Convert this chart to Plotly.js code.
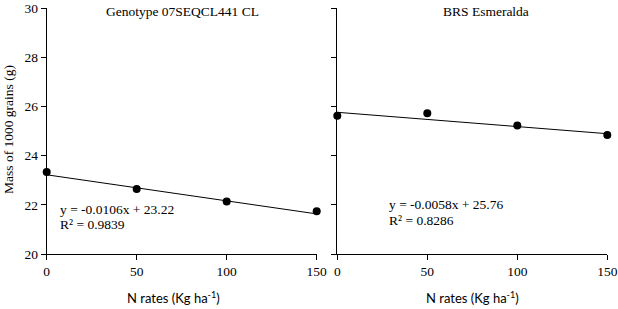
<!DOCTYPE html>
<html>
<head>
<meta charset="utf-8">
<script src="https://cdn.plot.ly/plotly-3.0.1.min.js"></script>
<style>
  html, body { margin: 0; padding: 0; background: #fff; }
  #chart { width: 618px; height: 309px; }
</style>
</head>
<body>
<div id="chart"></div>
<script>
// N rates applied (kg/ha)
const nRates = [0, 50, 100, 150];

// Mass of 1000 grains (g) per cultivar
const massGenotype = [23.33, 22.64, 22.13, 21.74];
const massEsmeralda = [25.62, 25.72, 25.22, 24.84];

// Panel titles
const panelTitles = ["Genotype 07SEQCL441 CL", "BRS Esmeralda"];

// Linear fit coefficients [slope, intercept] and R² for each panel
const fitGenotype = [-0.0106, 23.22];
const fitEsmeralda = [-0.0058, 25.76];
const r2Values = ["0.9839", "0.8286"];

// Axis ticks
const yTicks = [20, 22, 24, 26, 28, 30];
const xTicks = [0, 50, 100, 150];

const serif = "Liberation Serif, Times New Roman, serif";
const sans = "Lato, Open Sans, sans-serif";

function fitLine(fit) {
  const xs = [nRates[0], nRates[nRates.length - 1]];
  return { x: xs, y: xs.map(v => fit[0] * v + fit[1]) };
}

function fmtEq(fit) {
  return "y = " + fit[0].toFixed(4) + "x + " + fit[1].toFixed(2);
}

const markerStyle = { color: "#000", size: 8 };
const lineStyle = { color: "#000", width: 1 };

const l1 = fitLine(fitGenotype);
const l2 = fitLine(fitEsmeralda);

const traces = [
  { x: l1.x, y: l1.y, mode: "lines", line: lineStyle, xaxis: "x", yaxis: "y", hoverinfo: "skip", cliponaxis: false },
  { x: nRates, y: massGenotype, mode: "markers", marker: markerStyle, xaxis: "x", yaxis: "y", cliponaxis: false },
  { x: l2.x, y: l2.y, mode: "lines", line: lineStyle, xaxis: "x2", yaxis: "y2", hoverinfo: "skip", cliponaxis: false },
  { x: nRates, y: massEsmeralda, mode: "markers", marker: markerStyle, xaxis: "x2", yaxis: "y2", cliponaxis: false }
];

const W = 618, H = 309;
const yDom = [1 - 254 / H, 1 - 8 / H];

const axisCommon = {
  showgrid: false, zeroline: false, showline: true, linecolor: "#000", linewidth: 1,
  ticks: "outside", ticklen: 5, tickwidth: 1, tickcolor: "#000",
  tickfont: { family: serif, size: 13.5, color: "#000" }
};

const xAxisCommon = Object.assign({}, axisCommon, {
  range: [0, 150], tickmode: "array", tickvals: xTicks, ticktext: xTicks.map(String)
});

const yAxisCommon = Object.assign({}, axisCommon, {
  range: [20, 30], tickmode: "array", tickvals: yTicks
});

const annFont = { family: serif, size: 13.5, color: "#000" };
const xTitleFont = { family: sans, size: 13, color: "#000" };

const layout = {
  width: W, height: H,
  margin: { l: 0, r: 0, t: 0, b: 0 },
  paper_bgcolor: "#fff", plot_bgcolor: "#fff",
  showlegend: false,
  xaxis: Object.assign({}, xAxisCommon, { domain: [46.7 / W, 316.7 / W], anchor: "y" }),
  yaxis: Object.assign({}, yAxisCommon, { domain: yDom, anchor: "x", ticktext: yTicks.map(String) }),
  xaxis2: Object.assign({}, xAxisCommon, { domain: [337.3 / W, 607.3 / W], anchor: "y2" }),
  yaxis2: Object.assign({}, yAxisCommon, { domain: yDom, anchor: "x2", showticklabels: false }),
  annotations: [
    { text: panelTitles[0], xref: "paper", yref: "paper", x: 182 / W, y: 1 - 12 / H, xanchor: "center", yanchor: "middle", showarrow: false, font: annFont },
    { text: panelTitles[1], xref: "paper", yref: "paper", x: 486 / W, y: 1 - 12 / H, xanchor: "center", yanchor: "middle", showarrow: false, font: annFont },
    { text: fmtEq(fitGenotype), xref: "paper", yref: "paper", x: 58 / W, y: 1 - 209 / H, xanchor: "left", yanchor: "middle", showarrow: false, font: annFont },
    { text: "R² = " + r2Values[0], xref: "paper", yref: "paper", x: 58 / W, y: 1 - 224 / H, xanchor: "left", yanchor: "middle", showarrow: false, font: annFont },
    { text: fmtEq(fitEsmeralda), xref: "paper", yref: "paper", x: 387 / W, y: 1 - 204 / H, xanchor: "left", yanchor: "middle", showarrow: false, font: annFont },
    { text: "R² = " + r2Values[1], xref: "paper", yref: "paper", x: 387 / W, y: 1 - 220 / H, xanchor: "left", yanchor: "middle", showarrow: false, font: annFont },
    { text: "N rates (Kg ha<sup>-1</sup>)", xref: "paper", yref: "paper", x: 173 / W, y: 1 - 297 / H, xanchor: "center", yanchor: "middle", showarrow: false, font: xTitleFont },
    { text: "N rates (Kg ha<sup>-1</sup>)", xref: "paper", yref: "paper", x: 472 / W, y: 1 - 297 / H, xanchor: "center", yanchor: "middle", showarrow: false, font: xTitleFont },
    { text: "Mass of 1000 grains (g)", xref: "paper", yref: "paper", x: 8 / W, y: 1 - 130 / H, xanchor: "center", yanchor: "middle", textangle: -90, showarrow: false, font: annFont }
  ]
};

Plotly.newPlot("chart", traces, layout, { staticPlot: true, displayModeBar: false });
</script>
</body>
</html>
